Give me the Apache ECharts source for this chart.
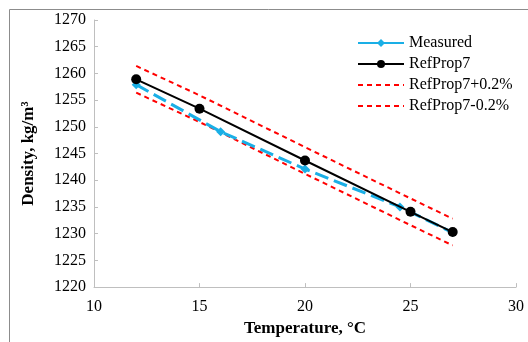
<!DOCTYPE html>
<html>
<head>
<meta charset="utf-8">
<script src="https://cdn.jsdelivr.net/npm/echarts@6/dist/echarts.min.js"></script>
<style>
  html, body { margin: 0; padding: 0; background: #fff; }
  #chart { width: 528px; height: 342px; }
</style>
</head>
<body>
<div id="chart"></div>
<script>
// Temperatures (°C) and densities (kg/m³)
var refTemps = [12, 15, 20, 25, 27];
var refProp7 = [1258.9, 1253.4, 1243.7, 1234.1, 1230.3];
var refPlus = [1261.4, 1255.9, 1246.2, 1236.6, 1232.8];
var refMinus = [1256.4, 1250.9, 1241.2, 1231.6, 1227.8];

var measTemps = [12, 16, 20, 24.5, 27];
var measured = [1257.9, 1249.1, 1242.1, 1235.0, 1230.2];

var xTicks = [10, 15, 20, 25, 30];
var yTicks = [1220, 1225, 1230, 1235, 1240, 1245, 1250, 1255, 1260, 1265, 1270];

function pairs(xs, ys) {
  return xs.map(function (x, i) { return [x, ys[i]]; });
}

var serif = '"Liberation Serif", "Times New Roman", serif';
var axisGray = '#bfbfbf';

var chart = echarts.init(document.getElementById('chart'), null, { renderer: 'canvas' });

chart.setOption({
  animation: false,
  backgroundColor: '#fff',
  grid: { left: 94, right: 12, top: 20, bottom: 49, containLabel: false },
  graphic: [
    // chart frame: top and left edges
    { type: 'polyline', silent: true,
      shape: { points: [[9.5, 342], [9.5, 9.5], [528, 9.5]] },
      style: { stroke: '#8c8c8c', lineWidth: 1, fill: null } }
  ],
  legend: {
    orient: 'vertical',
    left: 352,
    top: 30,
    itemWidth: 46,
    itemHeight: 10,
    itemGap: 5,
    textStyle: { fontFamily: serif, fontSize: 16, color: '#000', padding: [0, 0, 0, 0] },
    data: [
      { name: 'Measured', lineStyle: { type: 'solid' } },
      { name: 'RefProp7' },
      { name: 'RefProp7+0.2%', itemStyle: { opacity: 0 } },
      { name: 'RefProp7-0.2%', itemStyle: { opacity: 0 } }
    ]
  },
  xAxis: {
    type: 'value',
    min: xTicks[0],
    max: xTicks[xTicks.length - 1],
    interval: 5,
    name: 'Temperature, °C',
    nameLocation: 'middle',
    nameGap: 31,
    nameTextStyle: { fontFamily: serif, fontSize: 17, fontWeight: 'bold', color: '#000' },
    axisLine: { show: true, lineStyle: { color: axisGray, width: 1 } },
    axisTick: { show: true, inside: true, length: 4, lineStyle: { color: axisGray } },
    axisLabel: { fontFamily: serif, fontSize: 16, color: '#000', margin: 12 },
    splitLine: { show: false }
  },
  yAxis: {
    type: 'value',
    min: yTicks[0],
    max: yTicks[yTicks.length - 1],
    interval: 5,
    name: 'Density, kg/m³',
    nameLocation: 'middle',
    nameGap: 57,
    nameRotate: 90,
    nameTextStyle: { fontFamily: serif, fontSize: 17, fontWeight: 'bold', color: '#000' },
    axisLine: { show: true, lineStyle: { color: axisGray, width: 1 } },
    axisTick: { show: true, inside: true, length: 4, lineStyle: { color: axisGray } },
    axisLabel: { fontFamily: serif, fontSize: 16, color: '#000', margin: 8,
      formatter: function (v) { return String(v); } },
    splitLine: { show: false }
  },
  series: [
    {
      name: 'Measured',
      type: 'line',
      data: pairs(measTemps, measured),
      symbol: 'diamond',
      symbolSize: 9,
      itemStyle: { color: '#1aafe6' },
      lineStyle: { color: '#1aafe6', width: 3, type: [14, 6] },
      z: 3
    },
    {
      name: 'RefProp7',
      type: 'line',
      data: pairs(refTemps, refProp7),
      symbol: 'circle',
      symbolSize: 10,
      itemStyle: { color: '#000' },
      lineStyle: { color: '#000', width: 2 },
      z: 4
    },
    {
      name: 'RefProp7+0.2%',
      type: 'line',
      data: pairs(refTemps, refPlus),
      symbol: 'none',
      itemStyle: { color: '#ff0000' },
      lineStyle: { color: '#ff0000', width: 2, type: [5, 4] },
      z: 2
    },
    {
      name: 'RefProp7-0.2%',
      type: 'line',
      data: pairs(refTemps, refMinus),
      symbol: 'none',
      itemStyle: { color: '#ff0000' },
      lineStyle: { color: '#ff0000', width: 2, type: [5, 4] },
      z: 2
    }
  ]
});
</script>
</body>
</html>
